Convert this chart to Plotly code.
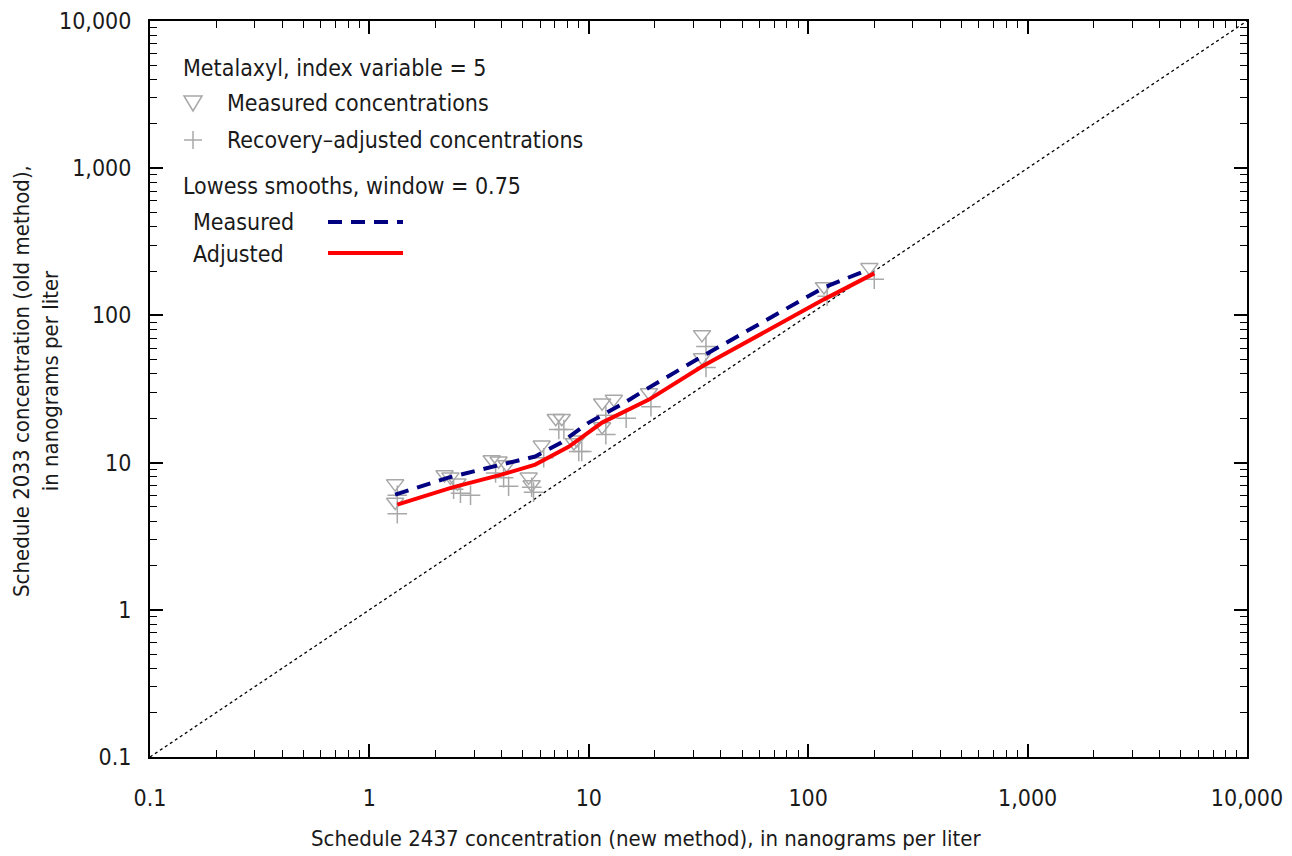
import plotly.graph_objects as go

# ---------------- data ----------------
meas_x = [1.31, 1.31, 2.20, 2.34, 2.52, 3.61, 3.88, 4.22, 5.32, 5.49, 6.10, 7.07, 7.53,
          8.55, 8.82, 11.5, 11.5, 13.0, 18.8, 32.8, 32.8, 118, 190]
meas_y = [7.2, 5.4, 8.3, 8.0, 7.3, 10.5, 10.3, 9.7, 8.0, 7.1, 13.2, 20.0, 20.0,
          13.7, 14.3, 25.5, 17.6, 27.0, 29.9, 74.3, 51.8, 157, 212]

adj_x = [1.34, 1.34, 2.42, 2.60, 2.89, 3.76, 4.09, 4.31, 5.49, 5.60, 6.23, 7.30, 7.70,
         9.00, 9.29, 11.96, 11.96, 14.8, 19.2, 34.2, 34.2, 122, 200]
adj_y = [6.0, 4.5, 6.6, 6.2, 6.0, 8.5, 7.9, 6.9, 6.8, 6.3, 10.8, 16.8, 16.8,
         11.9, 11.9, 21.0, 15.5, 20.0, 24.0, 61.5, 44.3, 135, 176]

lowess_meas_x = [1.31, 2.29, 4.0, 5.7, 7.5, 10, 14.1, 18.2, 32.8, 118, 190]
lowess_meas_y = [6.06, 7.9, 9.7, 11.0, 13.7, 18.7, 24.8, 31.4, 52.6, 155, 206]

lowess_adj_x = [1.34, 2.37, 4.0, 5.7, 8.09, 11.5, 18.8, 32.8, 118, 200]
lowess_adj_y = [5.18, 6.76, 8.28, 9.69, 12.8, 18.7, 26.8, 45.0, 128.5, 193]

one_to_one = [0.1, 10000]

tick_vals = [0.1, 1, 10, 100, 1000, 10000]
tick_text = ["0.1", "1", "10", "100", "1,000", "10,000"]

# ---------------- styling ----------------
FONT = "Liberation Sans Narrow, Arial Narrow, DejaVu Sans Condensed, sans-serif"
FS = 23
GREY = "#a8a8a8"
NAVY = "#000080"
RED = "#ff0000"
TXT = "#1a1a1a"

W, H = 1292, 856
L, R, T, B = 150, 45, 21, 99
PW, PH = W - L - R, H - T - B


def px(xp):
    return (xp - L) / PW


def py(yp):
    return (H - B - yp) / PH


fig = go.Figure()

fig.add_trace(go.Scatter(x=one_to_one, y=one_to_one, mode="lines",
                         line=dict(color="black", width=1.3, dash="dot"),
                         showlegend=False, hoverinfo="skip"))
fig.add_trace(go.Scatter(x=meas_x, y=meas_y, mode="markers",
                         marker=dict(symbol="triangle-down-open", size=15,
                                     color=GREY, line=dict(width=1.5, color=GREY)),
                         showlegend=False))
fig.add_trace(go.Scatter(x=adj_x, y=adj_y, mode="markers",
                         marker=dict(symbol="cross-thin-open", size=14,
                                     color=GREY, line=dict(width=1.5, color=GREY)),
                         showlegend=False))
fig.add_trace(go.Scatter(x=lowess_meas_x, y=lowess_meas_y, mode="lines",
                         line=dict(color=NAVY, width=4, dash="14px,9px"),
                         showlegend=False))
fig.add_trace(go.Scatter(x=lowess_adj_x, y=lowess_adj_y, mode="lines",
                         line=dict(color=RED, width=4),
                         showlegend=False))

axis_common = dict(
    type="log", range=[-1, 4], tickmode="array", tickvals=tick_vals, ticktext=tick_text,
    ticks="inside", ticklen=13, tickwidth=1.5, tickcolor="black",
    showline=True, linewidth=2, linecolor="black", mirror="allticks",
    showgrid=False, zeroline=False,
    tickfont=dict(family=FONT, size=FS, color=TXT),
    minor=dict(ticks="inside", ticklen=7, tickwidth=1, tickcolor="black",
               tickvals=[m * 10 ** e for e in range(-1, 4) for m in range(2, 10)],
               showgrid=False),
)

fig.update_xaxes(**axis_common, ticklabelstandoff=19)
fig.update_yaxes(**axis_common, ticklabelstandoff=12)

ann = []
ann.append(dict(text="Schedule 2437 concentration (new method), in nanograms per liter",
                x=px(646), y=py(838), xanchor="center", yanchor="middle",
                font=dict(family=FONT, size=22, color=TXT)))
ann.append(dict(text="Schedule 2033 concentration (old method),<br>in nanograms per liter",
                x=px(36), y=py(381), xanchor="center", yanchor="middle", textangle=-90,
                font=dict(family=FONT, size=22, color=TXT)))
ann.append(dict(text="Metalaxyl, index variable = 5", x=px(181), y=py(68),
                xanchor="left", yanchor="middle"))
ann.append(dict(text="Measured concentrations", x=px(225), y=py(103),
                xanchor="left", yanchor="middle"))
ann.append(dict(text="Recovery\u2013adjusted concentrations", x=px(225), y=py(140),
                xanchor="left", yanchor="middle"))
ann.append(dict(text="Lowess smooths, window = 0.75", x=px(181), y=py(186),
                xanchor="left", yanchor="middle"))
ann.append(dict(text="Measured", x=px(191), y=py(222), xanchor="left", yanchor="middle"))
ann.append(dict(text="Adjusted", x=px(191), y=py(254), xanchor="left", yanchor="middle"))
for a in ann:
    a.update(xref="paper", yref="paper", showarrow=False)
    if "font" not in a:
        a["font"] = dict(family=FONT, size=FS, color=TXT)

shapes = [
    # legend glyph: open triangle
    dict(type="path",
         path=f"M {px(184)},{py(96)} L {px(202)},{py(96)} L {px(193)},{py(111)} Z",
         line=dict(color=GREY, width=1.5)),
    # legend glyph: plus
    dict(type="line", x0=px(184), x1=px(202), y0=py(140), y1=py(140),
         line=dict(color=GREY, width=1.5)),
    dict(type="line", x0=px(193), x1=px(193), y0=py(131), y1=py(149),
         line=dict(color=GREY, width=1.5)),
    # legend lines
    dict(type="line", x0=px(328), x1=px(403), y0=py(222), y1=py(222),
         line=dict(color=NAVY, width=4, dash="14px,9px")),
    dict(type="line", x0=px(328), x1=px(403), y0=py(253), y1=py(253),
         line=dict(color=RED, width=4)),
]
for s in shapes:
    s.update(xref="paper", yref="paper")

fig.update_layout(
    width=W, height=H, margin=dict(l=L, r=R, t=T, b=B, autoexpand=False),
    paper_bgcolor="white", plot_bgcolor="white",
    annotations=ann, shapes=shapes, showlegend=False,
    font=dict(family=FONT, size=FS, color=TXT),
)

fig.write_html("out.html")
